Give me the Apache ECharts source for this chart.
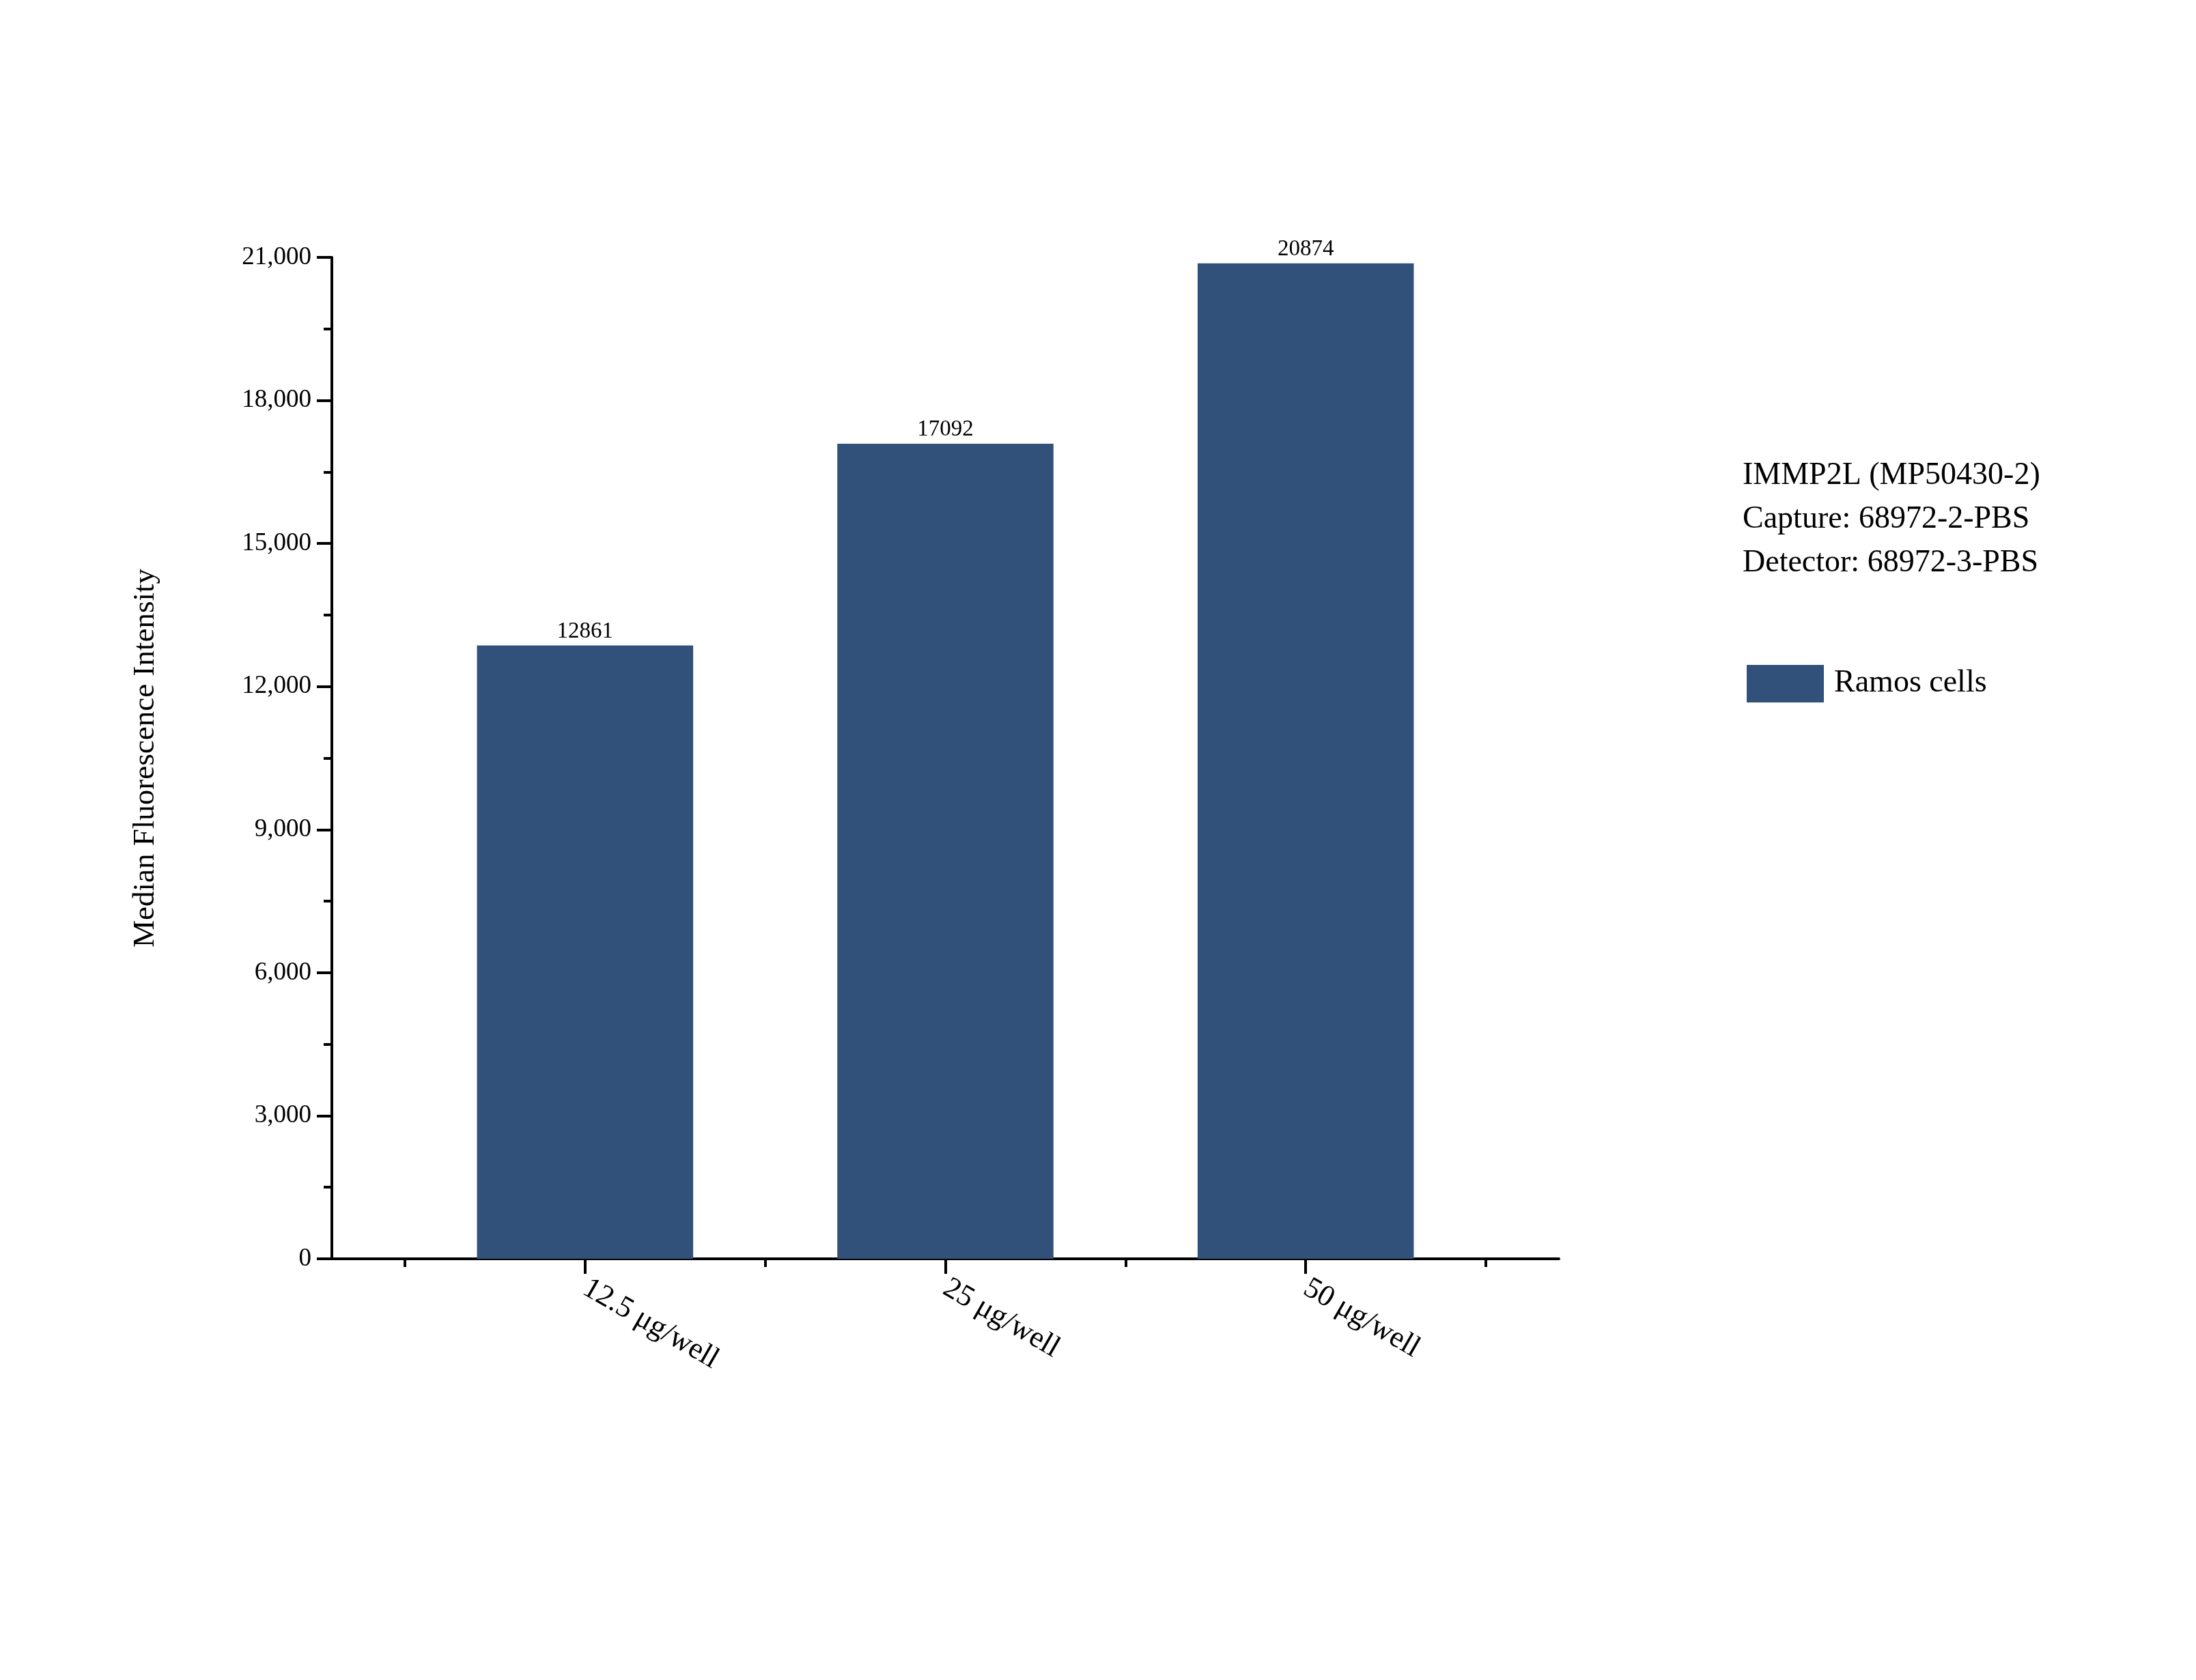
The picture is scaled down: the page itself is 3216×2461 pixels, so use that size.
<!DOCTYPE html>
<html><head><meta charset="utf-8">
<script src="https://cdn.jsdelivr.net/npm/echarts@6/dist/echarts.min.js"></script>
<style>html,body{margin:0;background:#fff}#c{width:3216px;height:2461px}</style>
</head><body><div id="c"></div>
<script>
const categories = ['12.5 μg/well', '25 μg/well', '50 μg/well'];
const values = [12861, 17092, 20874];
const seriesName = 'Ramos cells';
const infoLines = ['IMMP2L (MP50430-2)', 'Capture: 68972-2-PBS', 'Detector: 68972-3-PBS'];
const F = 'Liberation Serif, Times New Roman, serif';
const chart = echarts.init(document.getElementById('c'));
const axLine = {lineStyle: {color: '#000', width: 4}};
chart.setOption({
  animation: false,
  textStyle: {fontFamily: F},
  grid: [
    {left: 486, right: 933, top: 377, bottom: 617},
    {left: 593, right: 1040, top: 377, bottom: 617}
  ],
  xAxis: [
    {gridIndex: 0, type: 'value', min: 0, max: 1, axisLine: axLine, axisTick: {show: false}, axisLabel: {show: false}, splitLine: {show: false}},
    {gridIndex: 1, type: 'category', data: categories, axisLine: {show: false},
     axisTick: {show: true, length: 12, lineStyle: {color: '#000', width: 4}},
     axisLabel: {show: false}, splitLine: {show: false}},
    {gridIndex: 1, type: 'category', data: categories, position: 'bottom', axisLine: {show: false},
     axisTick: {show: true, alignWithLabel: true, length: 22, lineStyle: {color: '#000', width: 4}},
     axisLabel: {rotate: -30, margin: 40, fontSize: 44, color: '#000', fontFamily: F}, splitLine: {show: false}}
  ],
  yAxis: [
    {gridIndex: 0, type: 'value', min: 0, max: 21000, interval: 3000,
     name: 'Median Fluorescence Intensity', nameLocation: 'middle', nameGap: 250,
     nameTextStyle: {fontSize: 45, color: '#000', fontFamily: F},
     axisLine: {show: true, lineStyle: {color: '#000', width: 4}},
     axisTick: {show: true, length: 22, lineStyle: {color: '#000', width: 4}},
     minorTick: {show: true, splitNumber: 2, length: 12, lineStyle: {color: '#000', width: 4}},
     axisLabel: {fontSize: 37, color: '#000', margin: 30, fontFamily: F}, splitLine: {show: false}},
    {gridIndex: 1, type: 'value', min: 0, max: 21000, show: false}
  ],
  legend: {show: false},
  series: [{
    name: seriesName, type: 'bar', xAxisIndex: 2, yAxisIndex: 1, data: values, barWidth: '60%',
    itemStyle: {color: '#31507a'},
    label: {show: true, position: 'top', fontSize: 33, color: '#000', distance: 4, fontFamily: F}
  }],
  graphic: [
    {type: 'text', left: 2552, top: 665, style: {text: infoLines.join('\n'), fontSize: 46, lineHeight: 64, fill: '#000', fontFamily: F}},
    {type: 'rect', left: 2558, top: 974, shape: {width: 113, height: 55}, style: {fill: '#31507a'}},
    {type: 'text', left: 2686, top: 978, style: {text: seriesName, fontSize: 46, fill: '#000', fontFamily: F}}
  ]
});
</script></body></html>
